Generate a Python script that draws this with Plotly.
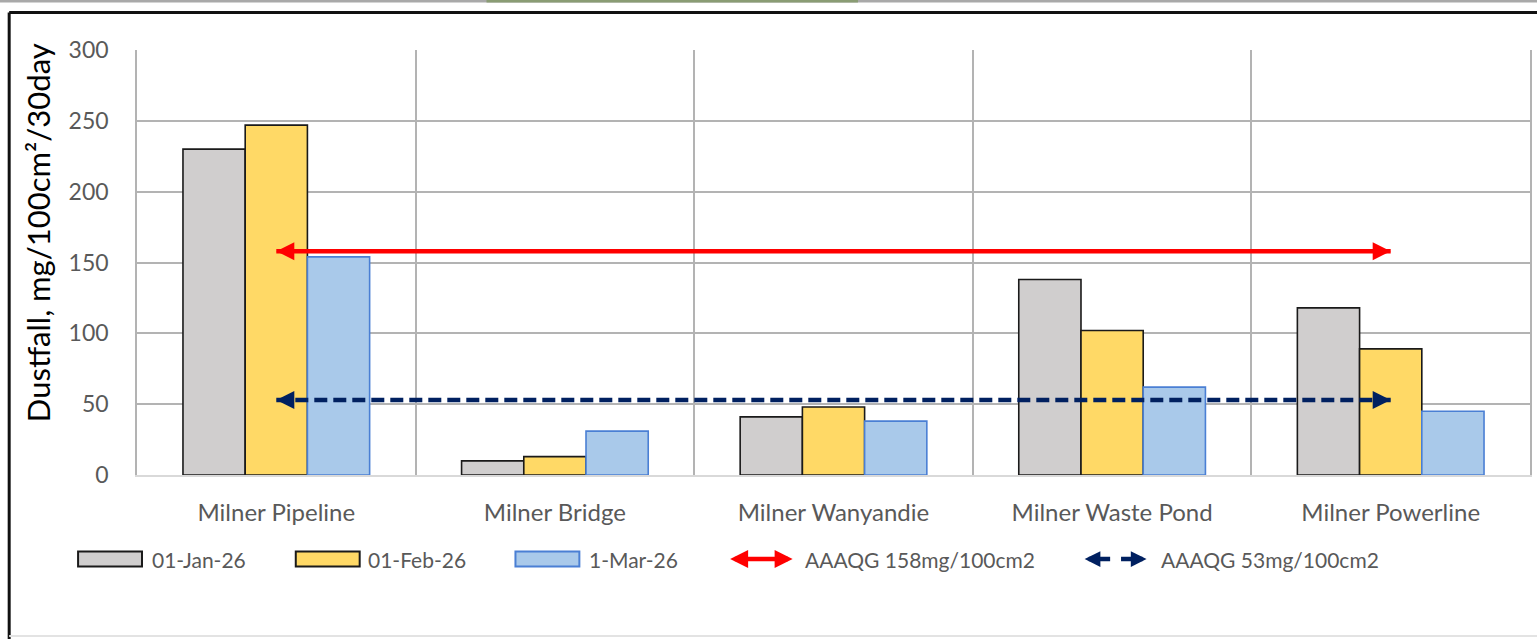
import plotly.graph_objects as go

# ---- data -------------------------------------------------------------
sites = ["Milner Pipeline", "Milner Bridge", "Milner Wanyandie",
         "Milner Waste Pond", "Milner Powerline"]
jan_26 = [230, 10, 41, 138, 118]
feb_26 = [247, 13, 48, 102, 89]
mar_26 = [154, 31, 38, 62, 45]
series_names = ["01-Jan-26", "01-Feb-26", "1-Mar-26"]
guideline_high = 158
guideline_low = 53
guideline_names = ["AAAQG 158mg/100cm2", "AAAQG 53mg/100cm2"]
y_ticks = [0, 50, 100, 150, 200, 250, 300]

# ---- layout geometry (pixels) ------------------------------------------
W, H = 1537, 639
PL, PR, PT, PB = 137, 1532, 50, 475  # plot area edges


def px(x):
    return (x - PL) / (PR - PL)


def py(y):
    return (PB - y) / (PB - PT)


FONT = "Lato, Calibri, sans-serif"
TXT = "#595959"
GRID = "#b3b3b3"

fills = ["#d0cece", "#ffd966", "#a9c9ea"]
edges = ["#1a1a1a", "#1a1a1a", "#4a7fd4"]
RED = "#ff0000"
NAVY = "#002060"

fig = go.Figure()

for name, vals, fc, ec in zip(series_names, [jan_26, feb_26, mar_26], fills, edges):
    fig.add_trace(go.Bar(
        x=sites, y=vals, name=name,
        marker=dict(color=fc, line=dict(color=ec, width=1.6)),
        showlegend=False,
    ))

# guideline arrows spanning first to last site
for level, name, color, dash in [
    (guideline_high, guideline_names[0], RED, "solid"),
    (guideline_low, guideline_names[1], NAVY, "13px,6px"),
]:
    fig.add_trace(go.Scatter(
        x=[sites[0], sites[-1]], y=[level, level], name=name,
        mode="lines+markers",
        line=dict(color=color, width=4.5, dash=dash),
        marker=dict(symbol=["arrow-left", "arrow-right"], size=18, color=color),
        showlegend=False, cliponaxis=False,
    ))

shapes = []
annotations = []

# outer frame and top strip
shapes.append(dict(type="rect", xref="paper", yref="paper",
                   x0=px(-5), x1=px(W + 5), y0=py(2.5), y1=py(-5),
                   fillcolor="#a9a9a9", line=dict(width=0), layer="below"))
shapes.append(dict(type="rect", xref="paper", yref="paper",
                   x0=px(487), x1=px(859), y0=py(2.5), y1=py(-5),
                   fillcolor="#8a9c74", line=dict(width=0), layer="below"))
shapes.append(dict(type="line", xref="paper", yref="paper",
                   x0=px(9), x1=px(W + 5), y0=py(12.5), y1=py(12.5),
                   line=dict(color="#111111", width=3)))
shapes.append(dict(type="line", xref="paper", yref="paper",
                   x0=px(9), x1=px(9), y0=py(12.5), y1=py(H + 5),
                   line=dict(color="#111111", width=3)))
shapes.append(dict(type="line", xref="paper", yref="paper",
                   x0=px(9), x1=px(W + 5), y0=py(636), y1=py(636),
                   line=dict(color="#e3e3e3", width=2)))

# legend
LY = 559
LEG_FONT = dict(family=FONT, size=21, color=TXT)
swatch_x = [78, 296, 516]
text_x = [150, 366, 588]
for sx, tx, name, fc, ec in zip(swatch_x, text_x, series_names, fills, edges):
    shapes.append(dict(type="rect", xref="paper", yref="paper",
                       x0=px(sx), x1=px(sx + 64), y0=py(LY + 7.5), y1=py(LY - 7.5),
                       fillcolor=fc, line=dict(color=ec, width=2)))
    annotations.append(dict(xref="paper", yref="paper", x=px(tx), y=py(LY),
                            text=name, showarrow=False, xanchor="left",
                            yanchor="middle", font=LEG_FONT))

# red double arrow legend key
annotations.append(dict(xref="paper", yref="paper", x=px(731), y=py(LY),
                        ax=64, ay=0, axref="pixel", ayref="pixel", text="",
                        showarrow=True, arrowhead=2, arrowside="end+start",
                        arrowsize=0.8, arrowwidth=4.5, arrowcolor=RED))
annotations.append(dict(xref="paper", yref="paper", x=px(804), y=py(LY),
                        text=guideline_names[0], showarrow=False, xanchor="left",
                        yanchor="middle", font=LEG_FONT))
# navy dashed legend key: two short arrows
annotations.append(dict(xref="paper", yref="paper", x=px(1086), y=py(LY),
                        ax=27, ay=0, axref="pixel", ayref="pixel", text="",
                        showarrow=True, arrowhead=2, arrowsize=0.7,
                        arrowwidth=4.5, arrowcolor=NAVY))
annotations.append(dict(xref="paper", yref="paper", x=px(1148), y=py(LY),
                        ax=-27, ay=0, axref="pixel", ayref="pixel", text="",
                        showarrow=True, arrowhead=2, arrowsize=0.7,
                        arrowwidth=4.5, arrowcolor=NAVY))
annotations.append(dict(xref="paper", yref="paper", x=px(1160), y=py(LY),
                        text=guideline_names[1], showarrow=False, xanchor="left",
                        yanchor="middle", font=LEG_FONT))

# y-axis title
annotations.append(dict(xref="paper", yref="paper", x=px(38), y=py(233),
                        text="Dustfall, mg/100cm²/30day", textangle=-90,
                        showarrow=False, xanchor="center", yanchor="middle",
                        font=dict(family=FONT, size=31, color="#000000")))

fig.update_layout(
    width=W, height=H,
    margin=dict(l=PL, r=W - PR, t=PT, b=H - PB),
    paper_bgcolor="white", plot_bgcolor="white",
    barmode="group", bargap=0.33, bargroupgap=0,
    showlegend=False,
    shapes=shapes, annotations=annotations,
    font=dict(family=FONT, color=TXT),
    xaxis=dict(
        type="category", tickson="boundaries", showgrid=True,
        gridcolor=GRID, gridwidth=1.5,
        showline=True, linecolor="#d9d9d9", linewidth=1.5,
        ticks="", ticklabelstandoff=15,
        tickfont=dict(family=FONT, size=24, color=TXT),
        range=[-0.5, 4.5], fixedrange=True,
    ),
    yaxis=dict(
        range=[0, 300], tickvals=y_ticks, showgrid=True,
        gridcolor=GRID, gridwidth=1.5, zeroline=False,
        showline=True, mirror=True, linecolor=GRID, linewidth=1.5,
        ticks="", ticklabelstandoff=22,
        tickfont=dict(family=FONT, size=23, color=TXT),
        fixedrange=True,
    ),
)

fig.write_html("out.html")
